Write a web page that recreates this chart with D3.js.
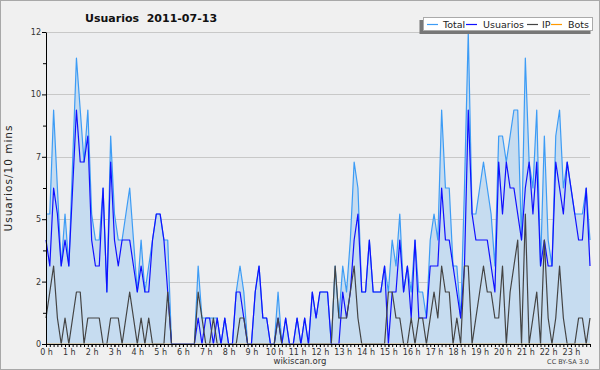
<!DOCTYPE html>
<html><head><meta charset="utf-8">
<script src="https://cdn.jsdelivr.net/npm/d3@7"></script>
<style>
html,body{margin:0;padding:0;background:#f0f0f0;}
svg{display:block;}
text{font-family:"DejaVu Sans",sans-serif;}
</style></head>
<body>
<svg id="c" width="600" height="370"></svg>
<script>
// ---- data (10-minute slots, 144 per day) ----
const total = [5,5,9,6,3,5,3,7,11,9,7,9,5,4,4,6,2,8,5,4,4,5,6,4,2,4,2,3,4,5,5,4,4,
  0,0,0,0,0,0,0,3,1,1,1,1,1,0,1,0,0,2,3,2,0,0,2,3,1,1,0,0,2,0,1,0,0,1,0,1,0,2,1,2,2,2,0,
  3,1,3,2,4,7,6,2,2,4,2,2,2,3,2,4,3,5,2,3,2,4,2,2,1,4,5,4,9,6,6,3,3,1,6,12,
  5,5,6,7,6,5,3,8,8,7,8,9,9,4,11,7,6,9,3,8,4,3,8,9,6,7,6,5,5,5,6,4];
const usuarios = [4,3,6,5,3,4,3,6,9,7,7,8,4,3,3,6,2,7,4,3,4,4,4,3,2,3,2,2,4,5,5,4,2,
  0,0,0,0,0,0,0,1,0,1,1,0,1,0,1,0,0,2,2,1,0,0,2,3,1,1,0,0,1,0,1,0,0,1,0,1,0,2,1,2,2,2,0,
  0,0,2,1,2,4,5,2,2,4,2,2,2,3,0,2,2,4,2,3,1,4,1,1,1,3,3,3,6,4,4,3,2,1,3,9,
  5,4,4,4,4,3,2,7,5,7,6,6,5,4,6,7,5,7,3,4,3,3,7,6,5,7,6,5,4,4,6,3];
const ip = [1,2,3,1,0,1,0,1,2,2,0,1,1,1,1,0,0,1,1,1,0,1,2,1,0,1,0,1,0,0,0,0,2,
  0,0,0,0,0,0,0,2,1,0,0,1,0,0,0,0,0,0,1,1,0,0,0,0,0,0,0,0,1,0,0,0,0,0,0,0,0,0,0,0,0,0,0,
  3,1,1,1,2,3,1,0,0,0,0,0,0,0,2,2,1,1,0,0,1,0,1,1,0,1,2,1,3,2,2,0,1,0,3,3,
  0,1,2,3,2,2,1,1,3,0,2,3,4,0,5,0,1,2,0,4,1,0,1,3,1,0,0,0,1,1,0,1];
const bots = new Array(144).fill(0);
const hourLabels = d3.range(24).map(h => h + " h");
const yTickValues = [0, 2.4, 4.8, 7.2, 9.6, 12];
const yTickLabels = ["0","2","5","7","10","12"];
const seriesNames = ["Total","Usuarios","IP","Bots"];
const seriesColors = ["#3d9cf5","#1010ff","#444444","#ff9900"];

// ---- layout ----
const svg = d3.select("#c");
const L = 46, R = 590, T = 32, B = 344;
const x = d3.scaleLinear().domain([0, 143]).range([L, R]);
const y = d3.scaleLinear().domain([0, 12]).range([B, T]);

svg.append("defs").append("clipPath").attr("id","plotclip")
  .append("rect").attr("x",0).attr("y",0).attr("width",600).attr("height",B-0.5);

svg.append("rect").attr("x",0.5).attr("y",0.5).attr("width",599).attr("height",369)
  .attr("fill","#f0f0f0").attr("stroke","#a8a8a8");
svg.append("rect").attr("x",L).attr("y",T).attr("width",R-L).attr("height",B-T).attr("fill","#edeef0");

// grid
svg.append("g").selectAll("line").data(yTickValues.slice(1)).join("line")
  .attr("x1",L).attr("x2",R).attr("y1",d=>Math.round(y(d))+0.5).attr("y2",d=>Math.round(y(d))+0.5)
  .attr("stroke","#c8c8c8").attr("stroke-width",1);

// area under total
const area = d3.area().x((d,i)=>x(i)).y0(B).y1(d=>y(d));
svg.append("path").datum(total).attr("d",area).attr("fill","#c6dcf0");

const line = d3.line().x((d,i)=>x(i)).y(d=>y(d));
const data = [total, usuarios, ip, bots];
const gl = svg.append("g").attr("clip-path","url(#plotclip)");
[3,0,1,2].forEach(k=>{
  gl.append("path").datum(data[k]).attr("d",line).attr("fill","none")
    .attr("stroke",seriesColors[k]).attr("stroke-width",1.2).attr("stroke-linejoin","round");
});

// axes
const yAxis = d3.axisLeft(y).tickValues(yTickValues).tickFormat((d,i)=>yTickLabels[i])
  .tickSize(4).tickPadding(1).tickSizeOuter(0);
svg.append("g").attr("transform",`translate(${L},0)`).call(yAxis);
const yMinor = d3.axisLeft(y).tickValues([1.2,3.6,6,8.4,10.8]).tickFormat("").tickSize(3).tickSizeOuter(0);
svg.append("g").attr("transform",`translate(${L},0)`).call(yMinor).select(".domain").remove();

const xMinor = d3.axisBottom(x).tickValues(d3.range(144)).tickFormat("").tickSize(3).tickSizeOuter(0);
svg.append("g").attr("transform",`translate(0,${B})`).call(xMinor);
const xAxis = d3.axisBottom(x).tickValues(d3.range(24).map(h=>h*6)).tickFormat((d,i)=>hourLabels[i])
  .tickSize(3).tickPadding(2).tickSizeOuter(0);
const gx = svg.append("g").attr("transform",`translate(0,${B})`).call(xAxis);
gx.select(".domain").remove();

svg.selectAll(".tick text").attr("font-family","DejaVu Sans").attr("font-size",8).attr("fill","#333");
svg.selectAll(".domain, .tick line").attr("stroke","#000");

// title
svg.append("text").attr("x",85).attr("y",22).attr("font-weight","bold").attr("font-size",11)
  .attr("fill","#111").style("white-space","pre").text("Usuarios  2011-07-13");

// y label
svg.append("text").attr("transform","translate(12,178) rotate(-90)").attr("text-anchor","middle")
  .attr("font-family","DejaVu Sans Mono").attr("font-size",10.5).attr("letter-spacing",1)
  .attr("fill","#222").text("Usuarios/10 mins");

// footer
svg.append("text").attr("x",300).attr("y",364).attr("text-anchor","middle").attr("font-size",8.5)
  .attr("fill","#333").text("wikiscan.org");
svg.append("text").attr("x",589).attr("y",364).attr("text-anchor","end").attr("font-size",6.5)
  .attr("fill","#444").text("CC BY-SA 3.0");

// legend
const lg = svg.append("g");
lg.append("rect").attr("x",419.5).attr("y",20).attr("width",171).attr("height",14).attr("fill","#777");
lg.append("rect").attr("x",423.5).attr("y",17.5).attr("width",169).attr("height",13).attr("fill","#fff").attr("stroke","#aaa");
const lx = [427, 466, 527, 551];
const tx = [443, 483, 542, 568];
seriesNames.forEach((n,k)=>{
  lg.append("line").attr("x1",lx[k]).attr("x2",lx[k]+11).attr("y1",24.5).attr("y2",24.5)
    .attr("stroke",seriesColors[k]).attr("stroke-width",1.2);
  lg.append("text").attr("x",tx[k]).attr("y",28).attr("font-size",9.5).attr("fill","#222").text(n);
});
</script>
</body></html>
